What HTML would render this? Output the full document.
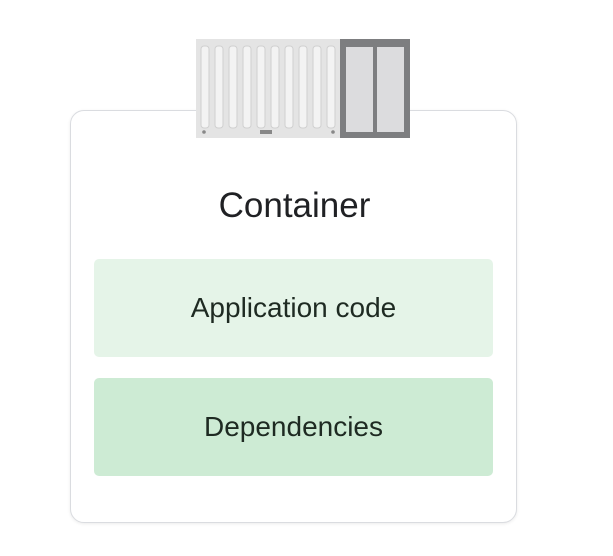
<!DOCTYPE html>
<html><head><style>
body{margin:0;width:613px;height:556px;background:#fff;position:relative;overflow:hidden;font-family:"Liberation Sans",sans-serif;}
.card{position:absolute;left:70px;top:110px;width:445px;height:411px;border:1.5px solid #dadce0;border-radius:14px;background:#fff;box-shadow:0 1px 3px rgba(0,0,0,0.08);}
.t{position:absolute;left:0;width:613px;text-align:center;color:#202124;}
.box{position:absolute;left:94px;width:399px;border-radius:5px;display:flex;align-items:center;justify-content:center;font-size:28px;color:#1e2a22;}
</style></head><body>
<div class="card"></div>
<svg style="position:absolute;left:0;top:0" width="613" height="160">
<rect x="196" y="39" width="144" height="99" fill="#e4e4e4"/>
<g fill="#f3f3f3" stroke="#cfcfcf" stroke-width="1">
<rect x="201" y="46" width="8" height="82" rx="3"/><rect x="215" y="46" width="8" height="82" rx="3"/>
<rect x="229" y="46" width="8" height="82" rx="3"/><rect x="243" y="46" width="8" height="82" rx="3"/>
<rect x="257" y="46" width="8" height="82" rx="3"/><rect x="271" y="46" width="8" height="82" rx="3"/>
<rect x="285" y="46" width="8" height="82" rx="3"/><rect x="299" y="46" width="8" height="82" rx="3"/>
<rect x="313" y="46" width="8" height="82" rx="3"/><rect x="327" y="46" width="8" height="82" rx="3"/>
</g>
<circle cx="204" cy="132" r="1.8" fill="#888"/><circle cx="333" cy="132" r="1.8" fill="#888"/>
<rect x="260" y="130" width="12" height="4" fill="#888"/>
<rect x="340" y="39" width="70" height="99" fill="#7d7e80"/>
<rect x="346" y="47" width="27" height="85" fill="#dcdcde"/>
<rect x="377" y="47" width="27" height="85" fill="#dcdcde"/>
</svg>
<div class="t" style="top:186px;font-size:35px;left:-12px">Container</div>
<div class="box" style="top:259px;height:98px;background:#e5f4e8">Application code</div>
<div class="box" style="top:378px;height:98px;background:#cdebd4">Dependencies</div>
</body></html>
